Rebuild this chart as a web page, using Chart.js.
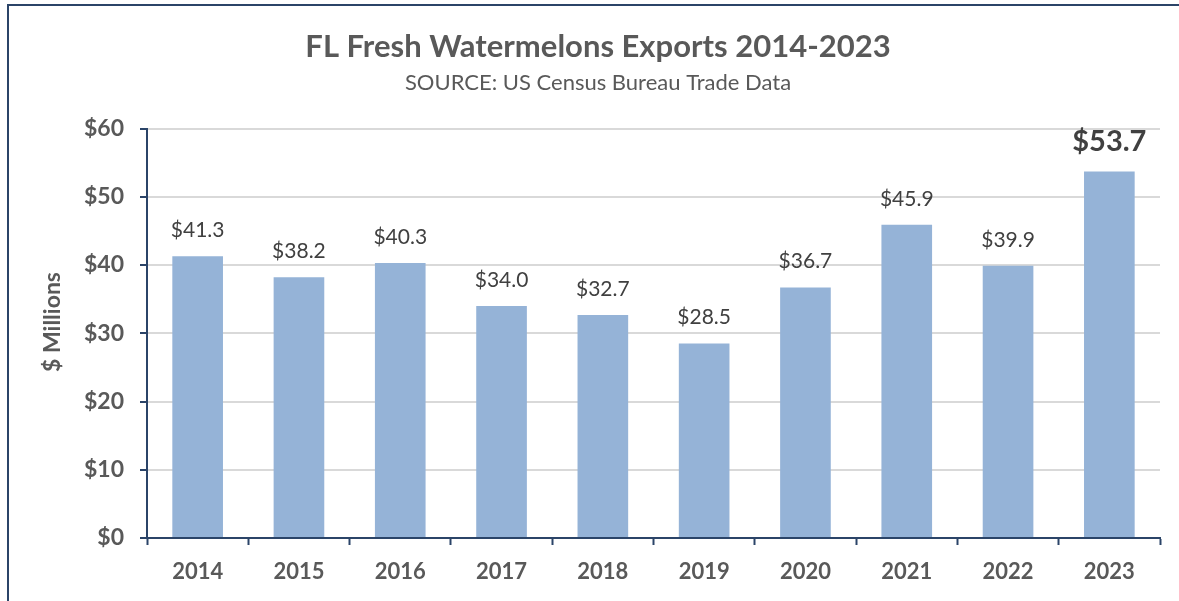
<!DOCTYPE html>
<html>
<head>
<meta charset="utf-8">
<script src="https://cdn.jsdelivr.net/npm/chart.js@4"></script>
<style>
  html, body { margin: 0; padding: 0; background: #ffffff; overflow: hidden; }
  #frame { position: absolute; left: 7px; top: 4px; width: 1300px; height: 700px;
           border-left: 2px solid #2b4468; border-top: 2px solid #2b4468; box-sizing: border-box; }
  #wrap { position: absolute; left: 0; top: 0; width: 1179px; height: 601px; }
</style>
</head>
<body>
<div id="frame"></div>
<div id="wrap"><canvas id="c" width="1179" height="601"></canvas></div>
<script>
const years = ['2014','2015','2016','2017','2018','2019','2020','2021','2022','2023'];
const exportsMillions = [41.3, 38.2, 40.3, 34.0, 32.7, 28.5, 36.7, 45.9, 39.9, 53.7];
const yTicks = [0, 10, 20, 30, 40, 50, 60];
const titleText = 'FL Fresh Watermelons Exports 2014-2023';
const subtitleText = 'SOURCE: US Census Bureau Trade Data';
const yAxisTitle = '$ Millions';

const FONT = 'Lato, "Open Sans", sans-serif';
const NAVY = '#2b4468';
const GRAY = '#595959';

const labelPlugin = {
  id: 'barLabels',
  afterDatasetsDraw(chart) {
    const ctx = chart.ctx;
    const meta = chart.getDatasetMeta(0);
    const data = chart.data.datasets[0].data;
    ctx.save();
    ctx.textAlign = 'center';
    ctx.textBaseline = 'middle';
    meta.data.forEach((bar, i) => {
      const last = i === data.length - 1;
      ctx.fillStyle = '#404040';
      ctx.font = last ? 'bold 29px ' + FONT : '21px ' + FONT;
      const txt = '$' + data[i].toFixed(1);
      ctx.fillText(txt, bar.x, bar.y - (last ? 30 : 26));
    });
    ctx.restore();
  }
};

const yTitlePlugin = {
  id: 'yTitle',
  afterDraw(chart) {
    const ctx = chart.ctx;
    ctx.save();
    ctx.translate(53, 322);
    ctx.rotate(-Math.PI / 2);
    ctx.textAlign = 'center';
    ctx.textBaseline = 'middle';
    ctx.fillStyle = GRAY;
    ctx.font = 'bold 23px ' + FONT;
    ctx.fillText(yAxisTitle, 0, 0);
    ctx.restore();
  }
};

new Chart(document.getElementById('c'), {
  type: 'bar',
  data: {
    labels: years,
    datasets: [{
      data: exportsMillions,
      backgroundColor: '#95b3d7',
      borderWidth: 0,
      categoryPercentage: 1.0,
      barPercentage: 0.5
    }]
  },
  options: {
    responsive: false,
    animation: false,
    devicePixelRatio: 1,
    layout: { padding: { left: 36, right: 19, top: 0, bottom: 0 } },
    plugins: {
      legend: { display: false },
      tooltip: { enabled: false },
      title: {
        display: true, text: titleText, color: GRAY,
        font: { family: FONT, size: 31, weight: 'bold' },
        padding: { top: 28, bottom: 0 }
      },
      subtitle: {
        display: true, text: subtitleText, color: GRAY,
        font: { family: FONT, size: 22, weight: 'normal' },
        padding: { top: 5, bottom: 32 }
      }
    },
    scales: {
      x: {
        afterFit(s) { s.height = 63; },
        grid: { offset: true, drawOnChartArea: false, drawTicks: true, tickLength: 7, tickColor: NAVY, tickWidth: 2 },
        border: { display: true, color: NAVY, width: 2 },
        ticks: { color: GRAY, font: { family: FONT, size: 22, weight: 'bold' }, padding: 14 }
      },
      y: {
        min: 0, max: 60,
        afterFit(s) { s.width = 111; },
        afterBuildTicks(s) { s.ticks = yTicks.map(v => ({ value: v })); },
        grid: { color: '#d9d9d9', lineWidth: 2, drawTicks: true, tickLength: 7, tickColor: NAVY, tickWidth: 2 },
        border: { display: true, color: NAVY, width: 2 },
        ticks: { color: GRAY, font: { family: FONT, size: 23, weight: 'bold' }, padding: 16,
                 callback: v => '$' + v },
        title: { display: false, text: yAxisTitle }
      }
    }
  },
  plugins: [labelPlugin, yTitlePlugin]
});
</script>
</body>
</html>
